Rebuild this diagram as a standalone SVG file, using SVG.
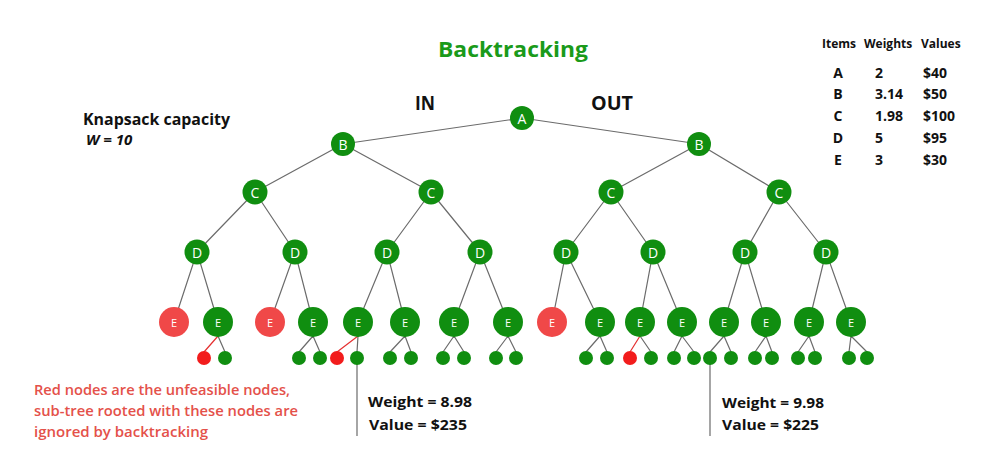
<svg xmlns="http://www.w3.org/2000/svg" width="1000" height="459" viewBox="0 0 1000 459">
<style>
.edge{stroke:#6b6b6b;stroke-width:1.2;fill:none}
.redge{stroke:#e53030;stroke-width:1.2;fill:none}
.n{fill:#108e10}
.r{fill:#f04848}
.rs{fill:#f21c1c}
.lbl{font-family:"Open Sans","Noto Sans",sans-serif;fill:#fff;font-size:14px;text-anchor:middle;dominant-baseline:central}
.lble{font-family:"Open Sans","Noto Sans",sans-serif;fill:#fff;font-size:11px;text-anchor:middle;dominant-baseline:central}
.h{font-family:"Open Sans","Noto Sans",sans-serif;font-weight:700;fill:#111}
.tbl{font-family:"Open Sans","Noto Sans",sans-serif;font-weight:700;fill:#111;font-size:14px}
.note{font-family:"Open Sans","Noto Sans",sans-serif;font-weight:600;fill:#e4514a;font-size:14.5px}
</style>
<rect width="1000" height="459" fill="#fff"/>
<text x="438" y="57" class="h" style="fill:#1a9a1a;font-size:21px" textLength="150" lengthAdjust="spacingAndGlyphs">Backtracking</text>
<text x="415" y="110" class="h" style="font-size:19px" textLength="20" lengthAdjust="spacingAndGlyphs">IN</text>
<text x="591" y="110" class="h" style="font-size:19px" textLength="42" lengthAdjust="spacingAndGlyphs">OUT</text>
<text x="83" y="125" class="h" style="font-size:15.5px" textLength="147" lengthAdjust="spacingAndGlyphs">Knapsack capacity</text>
<text x="86" y="145" class="h" style="font-size:15px;font-style:italic">W = 10</text>
<g id="table">
<text x="822" y="48" class="tbl" style="font-size:12px">Items</text>
<text x="864" y="48" class="tbl" style="font-size:12px">Weights</text>
<text x="921" y="48" class="tbl" style="font-size:12px">Values</text>
<g text-anchor="middle"><text x="838" y="78" class="tbl">A</text><text x="838" y="99" class="tbl">B</text><text x="838" y="121" class="tbl">C</text><text x="838" y="143" class="tbl">D</text><text x="838" y="165" class="tbl">E</text></g>
<text x="875" y="78" class="tbl">2</text><text x="875" y="99" class="tbl">3.14</text><text x="875" y="121" class="tbl">1.98</text><text x="875" y="143" class="tbl">5</text><text x="875" y="165" class="tbl">3</text>
<text x="923" y="78" class="tbl">$40</text><text x="923" y="99" class="tbl">$50</text><text x="923" y="121" class="tbl">$100</text><text x="923" y="143" class="tbl">$95</text><text x="923" y="165" class="tbl">$30</text>
</g>
<g id="connectors">
<path class="edge" d="M522 118L343 144M522 118L699 144M343 144L255 192M343 144L431 192M699 144L611 192M699 144L779 192M255 192L197 252M255 192L295 252M431 192L387 252M431 192L480 252M611 192L566 252M611 192L653 252M779 192L745 252M779 192L826 252"/>
<path class="edge" d="M197 252L174 322M197 252L218 322M295 252L270 322M295 252L313 322M387 252L358 322M387 252L405 322M480 252L454 322M480 252L508 322M566 252L552 322M566 252L600 322M653 252L640 322M653 252L682 322M745 252L724 322M745 252L766 322M826 252L809 322M826 252L851 322"/>
<path class="edge" d="M218 336L225 352M313 336L299 352M313 336L320 352M358 336L357 352M405 336L390 352M405 336L411 352M454 336L443 352M454 336L464 352M508 336L496 352M508 336L516 352M600 336L586 352M600 336L607 352M640 336L651 352M682 336L674 352M682 336L694 352M724 336L710 352M724 336L731 352M766 336L755 352M766 336L772 352M809 336L798 352M809 336L815 352M851 336L849 352M851 336L867 352"/>
<path class="redge" d="M218 336L204 352M358 336L337 352M640 336L630 352"/>
<path class="edge" d="M357 358V436M710 358V436"/>
</g>
<g id="A"><circle class="n" cx="522" cy="118" r="12"/><text class="lbl" x="522" y="118">A</text></g>
<g id="B1"><circle class="n" cx="343" cy="144" r="12"/><text class="lbl" x="343" y="144">B</text></g>
<g id="B2"><circle class="n" cx="699" cy="144" r="12"/><text class="lbl" x="699" y="144">B</text></g>
<g id="C1"><circle class="n" cx="255" cy="192" r="12.5"/><text class="lbl" x="255" y="192">C</text></g>
<g id="C2"><circle class="n" cx="431" cy="192" r="12.5"/><text class="lbl" x="431" y="192">C</text></g>
<g id="C3"><circle class="n" cx="611" cy="192" r="12.5"/><text class="lbl" x="611" y="192">C</text></g>
<g id="C4"><circle class="n" cx="779" cy="192" r="12.5"/><text class="lbl" x="779" y="192">C</text></g>
<g id="D1"><circle class="n" cx="197" cy="252" r="12.5"/><text class="lbl" x="197" y="252">D</text></g>
<g id="D2"><circle class="n" cx="295" cy="252" r="12.5"/><text class="lbl" x="295" y="252">D</text></g>
<g id="D3"><circle class="n" cx="387" cy="252" r="12.5"/><text class="lbl" x="387" y="252">D</text></g>
<g id="D4"><circle class="n" cx="480" cy="252" r="12.5"/><text class="lbl" x="480" y="252">D</text></g>
<g id="D5"><circle class="n" cx="566" cy="252" r="12.5"/><text class="lbl" x="566" y="252">D</text></g>
<g id="D6"><circle class="n" cx="653" cy="252" r="12.5"/><text class="lbl" x="653" y="252">D</text></g>
<g id="D7"><circle class="n" cx="745" cy="252" r="12.5"/><text class="lbl" x="745" y="252">D</text></g>
<g id="D8"><circle class="n" cx="826" cy="252" r="12.5"/><text class="lbl" x="826" y="252">D</text></g>
<g id="E1"><circle class="r" cx="174" cy="322" r="15"/><text class="lble" x="174" y="322">E</text></g>
<g id="E2"><circle class="n" cx="218" cy="322" r="15"/><text class="lble" x="218" y="322">E</text></g>
<g id="E3"><circle class="r" cx="270" cy="322" r="15"/><text class="lble" x="270" y="322">E</text></g>
<g id="E4"><circle class="n" cx="313" cy="322" r="15"/><text class="lble" x="313" y="322">E</text></g>
<g id="E5"><circle class="n" cx="358" cy="322" r="15"/><text class="lble" x="358" y="322">E</text></g>
<g id="E6"><circle class="n" cx="405" cy="322" r="15"/><text class="lble" x="405" y="322">E</text></g>
<g id="E7"><circle class="n" cx="454" cy="322" r="15"/><text class="lble" x="454" y="322">E</text></g>
<g id="E8"><circle class="n" cx="508" cy="322" r="15"/><text class="lble" x="508" y="322">E</text></g>
<g id="E9"><circle class="r" cx="552" cy="322" r="15"/><text class="lble" x="552" y="322">E</text></g>
<g id="E10"><circle class="n" cx="600" cy="322" r="15"/><text class="lble" x="600" y="322">E</text></g>
<g id="E11"><circle class="n" cx="640" cy="322" r="15"/><text class="lble" x="640" y="322">E</text></g>
<g id="E12"><circle class="n" cx="682" cy="322" r="15"/><text class="lble" x="682" y="322">E</text></g>
<g id="E13"><circle class="n" cx="724" cy="322" r="15"/><text class="lble" x="724" y="322">E</text></g>
<g id="E14"><circle class="n" cx="766" cy="322" r="15"/><text class="lble" x="766" y="322">E</text></g>
<g id="E15"><circle class="n" cx="809" cy="322" r="15"/><text class="lble" x="809" y="322">E</text></g>
<g id="E16"><circle class="n" cx="851" cy="322" r="15"/><text class="lble" x="851" y="322">E</text></g>
<g id="leaves">
<circle class="rs" cx="204" cy="358" r="7"/><circle class="n" cx="225" cy="358" r="7"/>
<circle class="n" cx="299" cy="358" r="7"/><circle class="n" cx="320" cy="358" r="7"/>
<circle class="rs" cx="337" cy="358" r="7"/><circle class="n" cx="357" cy="358" r="7"/>
<circle class="n" cx="390" cy="358" r="7"/><circle class="n" cx="411" cy="358" r="7"/>
<circle class="n" cx="443" cy="358" r="7"/><circle class="n" cx="464" cy="358" r="7"/>
<circle class="n" cx="496" cy="358" r="7"/><circle class="n" cx="516" cy="358" r="7"/>
<circle class="n" cx="586" cy="358" r="7"/><circle class="n" cx="607" cy="358" r="7"/>
<circle class="rs" cx="630" cy="358" r="7"/><circle class="n" cx="651" cy="358" r="7"/>
<circle class="n" cx="674" cy="358" r="7"/><circle class="n" cx="694" cy="358" r="7"/>
<circle class="n" cx="710" cy="358" r="7"/><circle class="n" cx="731" cy="358" r="7"/>
<circle class="n" cx="755" cy="358" r="7"/><circle class="n" cx="772" cy="358" r="7"/>
<circle class="n" cx="798" cy="358" r="7"/><circle class="n" cx="815" cy="358" r="7"/>
<circle class="n" cx="849" cy="358" r="7"/><circle class="n" cx="867" cy="358" r="7"/>
</g>
<text x="368" y="407" class="h" style="font-size:15px" textLength="104" lengthAdjust="spacingAndGlyphs">Weight = 8.98</text>
<text x="369" y="430" class="h" style="font-size:15px" textLength="98" lengthAdjust="spacingAndGlyphs">Value = $235</text>
<text x="722" y="408" class="h" style="font-size:15px" textLength="102" lengthAdjust="spacingAndGlyphs">Weight = 9.98</text>
<text x="722" y="430" class="h" style="font-size:15px" textLength="97" lengthAdjust="spacingAndGlyphs">Value = $225</text>
<text x="34" y="395" class="note" textLength="256" lengthAdjust="spacingAndGlyphs">Red nodes are the unfeasible nodes,</text>
<text x="34" y="416" class="note" textLength="264" lengthAdjust="spacingAndGlyphs">sub-tree rooted with these nodes are</text>
<text x="34" y="437" class="note" textLength="174" lengthAdjust="spacingAndGlyphs">ignored by backtracking</text>
</svg>
